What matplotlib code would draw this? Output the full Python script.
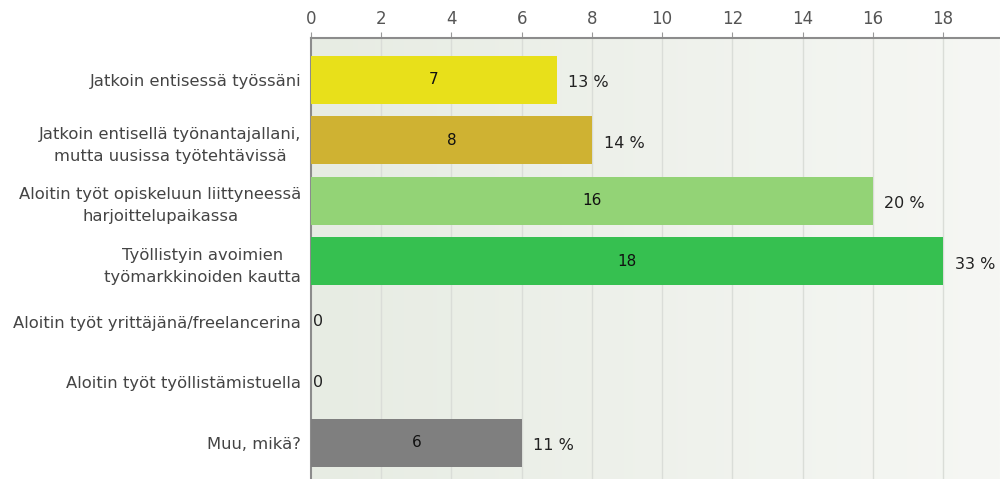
import matplotlib
matplotlib.use('Agg')
import matplotlib.pyplot as plt
import numpy as np
from matplotlib.colors import LinearSegmentedColormap

plt.rcParams['font.family'] = ['DejaVu Sans']

categories = [
    "Jatkoin entisessä työssäni",
    "Jatkoin entisellä työnantajallani,\nmutta uusissa työtehtävissä",
    "Aloitin työt opiskeluun liittyneessä\nharjoittelupaikassa",
    "Työllistyin avoimien\ntyömarkkinoiden kautta",
    "Aloitin työt yrittäjänä/freelancerina",
    "Aloitin työt työllistämistuella",
    "Muu, mikä?",
]
counts = [7, 8, 16, 18, 0, 0, 6]
percents = ["13 %", "14 %", "20 %", "33 %", "", "", "11 %"]
colors = ['#E8E01A', '#CFB232', '#93D376', '#36C050', '#888888', '#888888', '#7F7F7F']
xticks = [0, 2, 4, 6, 8, 10, 12, 14, 16, 18]

fig = plt.figure(figsize=(10, 4.79), dpi=100)
ax = fig.add_axes([0.311, 0.0, 0.689, 0.9207])

y = np.arange(len(categories))
xmax = 19.62
ax.set_xlim(0, xmax)
ax.set_ylim(len(categories) - 0.4, -0.69)

# background gradient
cmap = LinearSegmentedColormap.from_list('bg', ['#E7ECE3', '#F6F7F4'])
grad = np.linspace(0, 1, 256).reshape(1, -1)
ax.imshow(grad, cmap=cmap, aspect='auto', extent=[0, xmax, len(categories) - 0.4, -0.69],
          zorder=0)

for xt in xticks[1:]:
    ax.axvline(xt, color='#DADDD8', linewidth=1.0, zorder=1)

bars = ax.barh(y, counts, height=0.8, color=colors, zorder=3)

for yi, c, p in zip(y, counts, percents):
    if c > 0:
        ax.text(c / 2, yi, str(c), ha='center', va='center', fontsize=11, color='#111111', zorder=4)
        ax.text(c + 0.33, yi + 0.05, p, ha='left', va='center', fontsize=11.5, color='#222222', zorder=4)
    else:
        ax.text(0.05, yi, '0', ha='left', va='center', fontsize=11.5, color='#222222', zorder=4)

ax.set_yticks(y)
ax.set_yticklabels(categories, fontsize=11.8, color='#444444', linespacing=1.6,
                   multialignment='center')
ax.tick_params(axis='y', length=0, pad=7)

ax.xaxis.tick_top()
ax.set_xticks(xticks)
ax.set_xticklabels([str(t) for t in xticks], fontsize=12, color='#555555')
ax.tick_params(axis='x', length=4, direction='out', color='#999999', pad=3)

for side in ['right', 'bottom']:
    ax.spines[side].set_visible(False)
ax.spines['top'].set_color('#8C8C8C')
ax.spines['top'].set_linewidth(1.5)
ax.spines['left'].set_color('#8C8C8C')
ax.spines['left'].set_linewidth(1.5)

fig.savefig('out.png', dpi=100, facecolor='white')
plt.close(fig)
